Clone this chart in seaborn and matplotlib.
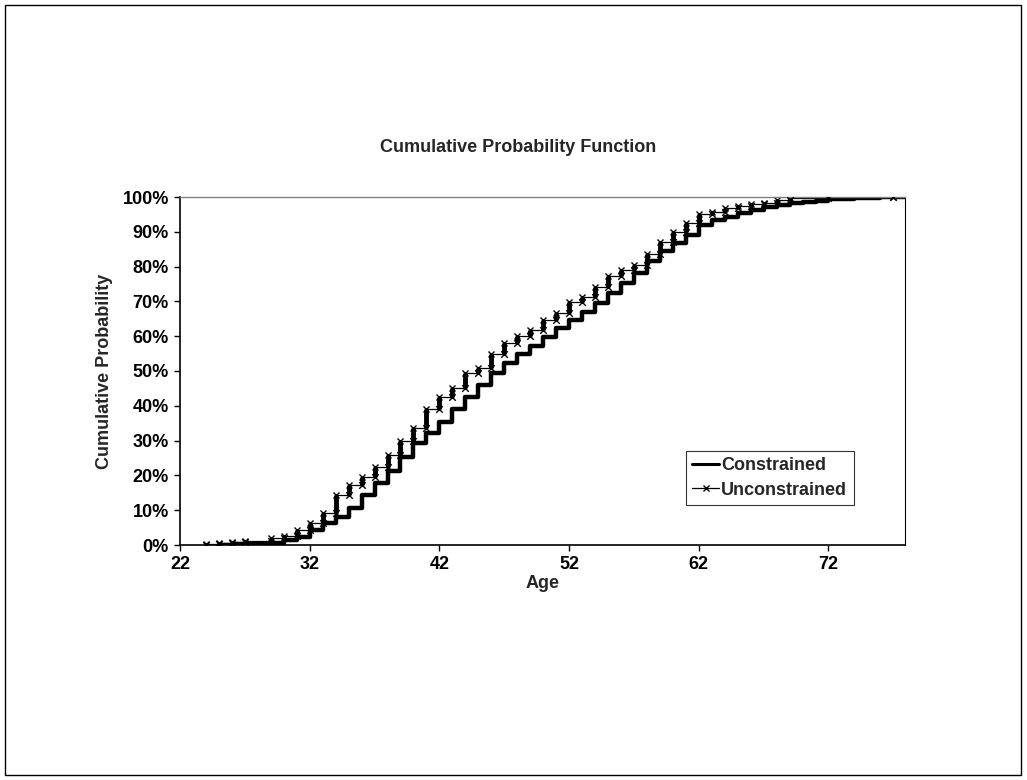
import numpy as np
import pandas as pd
import seaborn as sns
import matplotlib
matplotlib.use("Agg")
import matplotlib.pyplot as plt
from matplotlib.ticker import PercentFormatter, MultipleLocator
from matplotlib.lines import Line2D
from matplotlib.patches import Rectangle

# ---- data ----
unc_age = [24, 25, 26, 27, 29, 30, 31, 32, 33, 34, 35, 36, 37, 38, 39, 40, 41, 42, 43, 44,
           45, 46, 47, 48, 49, 50, 51, 52, 53, 54, 55, 56, 57, 58, 59, 60, 61, 62, 63, 64,
           65, 66, 67, 68, 69, 72, 77]
unc_cdf = [0.3, 0.5, 0.9, 1.2, 1.9, 2.6, 4.3, 6.4, 9.3, 14.3, 17.2, 19.5, 22.5, 26.0, 29.8,
           33.5, 39.0, 42.6, 45.0, 49.5, 50.8, 54.9, 58.0, 60.0, 61.8, 64.7, 66.6, 69.9, 71.3,
           74.0, 77.3, 79.0, 80.5, 83.6, 87.2, 90.0, 92.6, 95.1, 95.8, 96.8, 97.4, 98.0, 98.4,
           99.0, 99.6, 99.9, 100.0]

con_age = [25, 26, 27, 28, 29, 30, 31, 32, 33, 34, 35, 36, 37, 38, 39, 40, 41, 42, 43, 44,
           45, 46, 47, 48, 49, 50, 51, 52, 53, 54, 55, 56, 57, 58, 59, 60, 61, 62, 63, 64,
           65, 66, 67, 68, 69, 70, 71, 72, 73, 74, 75, 76, 77, 78]
con_cdf = [0.1, 0.15, 0.2, 0.3, 0.5, 1.4, 2.4, 4.3, 6.2, 8.1, 10.5, 14.3, 17.8, 21.4, 25.2,
           29.2, 32.3, 35.4, 39.0, 42.6, 46.0, 49.5, 52.4, 54.9, 57.3, 59.7, 62.3, 64.7, 67.0,
           69.6, 72.3, 75.4, 78.3, 81.6, 84.6, 86.7, 89.1, 92.0, 93.4, 94.3, 95.3, 96.3, 97.0,
           97.7, 98.2, 98.6, 98.9, 99.3, 99.5, 99.7, 99.8, 99.9, 100.0, 100.0]

x_ticks = [22, 32, 42, 52, 62, 72]
title = "Cumulative Probability Function"
xlabel = "Age"
ylabel = "Cumulative Probability"
series_names = ["Constrained", "Unconstrained"]

# ---- style ----
sns.set_style("white")
plt.rcParams["font.family"] = ["Liberation Sans", "DejaVu Sans"]
plt.rcParams["font.weight"] = "bold"
plt.rcParams["axes.labelweight"] = "bold"
FS = 13

W, H = 1027, 780
fig = plt.figure(figsize=(W / 100, H / 100), dpi=100)
ax = fig.add_axes([180 / W, 1 - 545 / H, 725 / W, 348 / H])

con = pd.DataFrame({"Age": con_age, "P": np.array(con_cdf) / 100})
unc = pd.DataFrame({"Age": unc_age, "P": np.array(unc_cdf) / 100})

sns.lineplot(data=con, x="Age", y="P", ax=ax, color="black", lw=3.2,
             drawstyle="steps-post", estimator=None)
sns.lineplot(data=unc, x="Age", y="P", ax=ax, color="black", lw=0.9,
             drawstyle="steps-post", estimator=None, marker="x", markersize=5,
             markeredgewidth=1.0, markeredgecolor="black")
prev = np.concatenate([[0.0], unc["P"].values[:-1]])
ax.vlines(unc["Age"], prev, unc["P"], color="black", lw=3.5)
ax.scatter(unc["Age"], prev, marker="x", s=22, color="black", linewidths=1.0, zorder=3)

ax.set_xlim(22, 77.9)
ax.set_ylim(0, 1)
ax.set_xticks(x_ticks)
ax.yaxis.set_major_locator(MultipleLocator(0.1))
ax.yaxis.set_major_formatter(PercentFormatter(1.0, decimals=0))
ax.tick_params(axis="both", which="major", direction="out", length=4, width=1,
               colors="black", labelsize=FS, pad=4, bottom=True, left=True)
for lbl in ax.get_xticklabels() + ax.get_yticklabels():
    lbl.set_fontweight("bold")

for side in ["left", "bottom"]:
    ax.spines[side].set_color("black")
    ax.spines[side].set_linewidth(1.2)
ax.spines["top"].set_color("#808080")
ax.spines["top"].set_linewidth(1.0)
ax.spines["right"].set_color("black")
ax.spines["right"].set_linewidth(0.8)

ax.set_xlabel(xlabel, fontsize=FS, fontweight="bold")
ax.set_ylabel(ylabel, fontsize=FS, fontweight="bold")
ax.xaxis.set_label_coords(0.5, -0.087)
ax.yaxis.set_label_coords(-0.093, 0.5)

fig.text(518 / W, 1 - 148 / H, title, ha="center", va="center",
         fontsize=FS, fontweight="bold")

handles = [Line2D([], [], color="black", lw=2.2),
           Line2D([], [], color="black", lw=0.9, marker="x", markersize=4)]
leg = ax.legend(handles, series_names, loc="lower left",
                bbox_to_anchor=(0.698, 0.115), borderaxespad=0, frameon=True,
                fancybox=False, edgecolor="black", fontsize=FS,
                handlelength=1.5, handletextpad=0.1, borderpad=0.35, labelspacing=0.4)
leg.get_frame().set_linewidth(0.8)
for t in leg.get_texts():
    t.set_fontweight("bold")

fig.patches.append(Rectangle((5 / W, 5 / H), 1016 / W, 770 / H, transform=fig.transFigure,
                             fill=False, edgecolor="black", lw=1.0))

fig.savefig("out.png", dpi=100, facecolor="white")
